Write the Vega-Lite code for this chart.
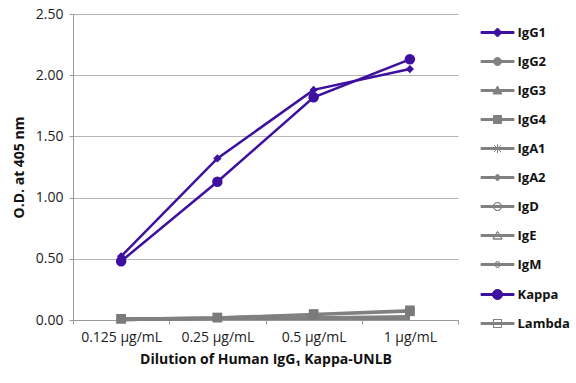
{
  "$schema": "https://vega.github.io/schema/vega-lite/v6.json",
  "width": 385,
  "height": 306,
  "padding": {"left": 12, "top": 7, "right": 0, "bottom": 5},
  "background": "white",
  "config": {
    "font": "Open Sans",
    "view": {"stroke": null},
    "axis": {"labelFont": "Open Sans", "titleFont": "Open Sans"}
  },
  "data": {
    "values": [
      {"series": "IgG2", "dose": "0.125 µg/mL", "od": 0.0},
      {"series": "IgG2", "dose": "0.25 µg/mL", "od": 0.01},
      {"series": "IgG2", "dose": "0.5 µg/mL", "od": 0.01},
      {"series": "IgG2", "dose": "1 µg/mL", "od": 0.02},
      {"series": "IgG3", "dose": "0.125 µg/mL", "od": 0.01},
      {"series": "IgG3", "dose": "0.25 µg/mL", "od": 0.01},
      {"series": "IgG3", "dose": "0.5 µg/mL", "od": 0.02},
      {"series": "IgG3", "dose": "1 µg/mL", "od": 0.03},
      {"series": "IgG4", "dose": "0.125 µg/mL", "od": 0.01},
      {"series": "IgG4", "dose": "0.25 µg/mL", "od": 0.02},
      {"series": "IgG4", "dose": "0.5 µg/mL", "od": 0.05},
      {"series": "IgG4", "dose": "1 µg/mL", "od": 0.08},
      {"series": "IgA1", "dose": "0.125 µg/mL", "od": 0.0},
      {"series": "IgA1", "dose": "0.25 µg/mL", "od": 0.01},
      {"series": "IgA1", "dose": "0.5 µg/mL", "od": 0.01},
      {"series": "IgA1", "dose": "1 µg/mL", "od": 0.02},
      {"series": "IgA2", "dose": "0.125 µg/mL", "od": 0.01},
      {"series": "IgA2", "dose": "0.25 µg/mL", "od": 0.01},
      {"series": "IgA2", "dose": "0.5 µg/mL", "od": 0.01},
      {"series": "IgA2", "dose": "1 µg/mL", "od": 0.01},
      {"series": "IgD", "dose": "0.125 µg/mL", "od": 0.0},
      {"series": "IgD", "dose": "0.25 µg/mL", "od": 0.01},
      {"series": "IgD", "dose": "0.5 µg/mL", "od": 0.01},
      {"series": "IgD", "dose": "1 µg/mL", "od": 0.01},
      {"series": "IgE", "dose": "0.125 µg/mL", "od": 0.01},
      {"series": "IgE", "dose": "0.25 µg/mL", "od": 0.01},
      {"series": "IgE", "dose": "0.5 µg/mL", "od": 0.02},
      {"series": "IgE", "dose": "1 µg/mL", "od": 0.02},
      {"series": "IgM", "dose": "0.125 µg/mL", "od": 0.01},
      {"series": "IgM", "dose": "0.25 µg/mL", "od": 0.01},
      {"series": "IgM", "dose": "0.5 µg/mL", "od": 0.02},
      {"series": "IgM", "dose": "1 µg/mL", "od": 0.02},
      {"series": "Lambda", "dose": "0.125 µg/mL", "od": 0.01},
      {"series": "Lambda", "dose": "0.25 µg/mL", "od": 0.02},
      {"series": "Lambda", "dose": "0.5 µg/mL", "od": 0.04},
      {"series": "Lambda", "dose": "1 µg/mL", "od": 0.07},
      {"series": "IgG1", "dose": "0.125 µg/mL", "od": 0.52},
      {"series": "IgG1", "dose": "0.25 µg/mL", "od": 1.32},
      {"series": "IgG1", "dose": "0.5 µg/mL", "od": 1.88},
      {"series": "IgG1", "dose": "1 µg/mL", "od": 2.05},
      {"series": "Kappa", "dose": "0.125 µg/mL", "od": 0.48},
      {"series": "Kappa", "dose": "0.25 µg/mL", "od": 1.13},
      {"series": "Kappa", "dose": "0.5 µg/mL", "od": 1.82},
      {"series": "Kappa", "dose": "1 µg/mL", "od": 2.13}
    ]
  },
  "encoding": {
    "x": {
      "field": "dose",
      "type": "nominal",
      "sort": ["0.125 µg/mL", "0.25 µg/mL", "0.5 µg/mL", "1 µg/mL"],
      "scale": {"paddingInner": 0, "paddingOuter": 0},
      "axis": {
        "title": "Dilution of Human IgG₁ Kappa-UNLB",
        "titleFontSize": 14,
        "titleFontWeight": "bold",
        "titleColor": "#111",
        "titlePadding": 8,
        "labelAngle": 0,
        "labelFontSize": 14,
        "labelColor": "#222",
        "labelPadding": 6,
        "tickBand": "extent",
        "tickColor": "#999",
        "tickSize": 4,
        "domainColor": "#999",
        "grid": false
      }
    },
    "y": {
      "field": "od",
      "type": "quantitative",
      "scale": {"domain": [0, 2.5], "nice": false},
      "axis": {
        "title": "O.D. at 405 nm",
        "titleFontSize": 14,
        "titleFontWeight": "bold",
        "titleColor": "#111",
        "titlePadding": 9,
        "values": [0, 0.5, 1, 1.5, 2, 2.5],
        "format": ".2f",
        "labelFontSize": 14,
        "labelColor": "#222",
        "labelPadding": 6,
        "tickColor": "#999",
        "tickSize": 4,
        "domainColor": "#999",
        "gridColor": "#b5b5b5",
        "gridWidth": 1
      }
    }
  },
  "layer": [
    {
      "mark": {"type": "line", "strokeWidth": 2.5},
      "encoding": {
        "stroke": {
          "field": "series",
          "type": "nominal",
          "scale": {
            "domain": ["Kappa", "IgG1", "IgG2", "IgG3", "IgG4", "IgA1", "IgA2", "IgD", "IgE", "IgM", "Lambda"],
            "range": ["#3d10a0", "#3d10a0", "#808080", "#808080", "#808080", "#808080", "#808080", "#808080", "#808080", "#808080", "#808080"]
          },
          "legend": null
        }
      }
    },
    {
      "transform": [{"filter": {"field": "series", "oneOf": ["IgG4", "Lambda"]}}],
      "mark": {"type": "point", "shape": "square", "filled": true, "size": 90, "color": "#7a7a7a", "opacity": 1}
    },
    {
      "transform": [{"filter": {"field": "series", "equal": "IgG1"}}],
      "mark": {"type": "point", "shape": "diamond", "filled": true, "size": 70, "color": "#3d10a0", "opacity": 1}
    },
    {
      "transform": [{"filter": {"field": "series", "equal": "Kappa"}}],
      "mark": {"type": "point", "shape": "circle", "filled": true, "size": 110, "color": "#3d10a0", "opacity": 1}
    },
    {
      "mark": {"type": "point", "filled": true, "size": 100, "opacity": 0.001},
      "encoding": {
        "color": {
          "field": "series",
          "type": "nominal",
          "scale": {
            "domain": ["IgG1", "IgG2", "IgG3", "IgG4", "IgA1", "IgA2", "IgD", "IgE", "IgM", "Kappa", "Lambda"],
            "range": ["#3d10a0", "#808080", "#808080", "#808080", "#808080", "#808080", "#808080", "#808080", "#808080", "#3d10a0", "#808080"]
          },
          "legend": {
            "title": null,
            "orient": "none",
            "legendX": 418,
            "legendY": 12,
            "padding": 0,
            "symbolSize": 100,
            "labelOffset": 13.5,
            "rowPadding": 15,
            "labelFontSize": 13,
            "labelFontWeight": "bold",
            "labelColor": "#111",
            "labelFont": "Open Sans",
            "symbolOpacity": 1,
            "symbolStrokeWidth": 1,
            "encode": {
              "symbols": {
                "update": {
                  "fill": {"scale": "color", "field": "value"},
                  "stroke": {"scale": "color", "field": "value"},
                  "strokeWidth": {"value": 1},
                  "opacity": {"value": 1}
                }
              }
            }
          }
        },
        "shape": {
          "field": "series",
          "type": "nominal",
          "scale": {
            "domain": ["IgG1", "IgG2", "IgG3", "IgG4", "IgA1", "IgA2", "IgD", "IgE", "IgM", "Kappa", "Lambda"],
            "range": [
              "M-3.3,-0.2H3.3V0.2H-3.3Z M0,-0.9L0.9,0L0,0.9L-0.9,0Z",
              "M-3.3,-0.2H3.3V0.2H-3.3Z M-0.8,0A0.8,0.8 0 1,1 0.8,0A0.8,0.8 0 1,1 -0.8,0Z",
              "M-3.3,-0.2H3.3V0.2H-3.3Z M0,-0.9L0.9,0.7H-0.9Z",
              "M-3.3,-0.2H3.3V0.2H-3.3Z M-0.8,-0.8H0.8V0.8H-0.8Z",
              "M-3.3,-0.2H3.3V0.2H-3.3Z M-0.7,-0.7L0.7,0.7M-0.7,0.7L0.7,-0.7M0,-0.9L0,0.9",
              "M-3.3,-0.2H3.3V0.2H-3.3Z M0,-0.7L0.7,0L0,0.7L-0.7,0Z",
              "M-3.3,-0.2H3.3V0.2H-3.3Z M-0.8,0A0.8,0.8 0 1,1 0.8,0A0.8,0.8 0 1,1 -0.8,0Z M-0.8,0A0.8,0.8 0 1,0 0.8,0A0.8,0.8 0 1,0 -0.8,0Z",
              "M-3.3,-0.2H3.3V0.2H-3.3Z M0,-0.8L0.9,0.7H-0.9Z M0,-0.8L-0.9,0.7H0.9Z",
              "M-3.3,-0.2H3.3V0.2H-3.3Z M0,-0.7L0.7,0L0,0.7L-0.7,0Z M0,-0.7L-0.7,0L0,0.7L0.7,0Z",
              "M-3.3,-0.2H3.3V0.2H-3.3Z M-1,0A1,1 0 1,1 1,0A1,1 0 1,1 -1,0Z",
              "M-3.3,-0.2H3.3V0.2H-3.3Z M-0.8,-0.8H0.8V0.8H-0.8Z M-0.8,-0.8V0.8H0.8V-0.8Z"
            ]
          }
        }
      }
    }
  ]
}
